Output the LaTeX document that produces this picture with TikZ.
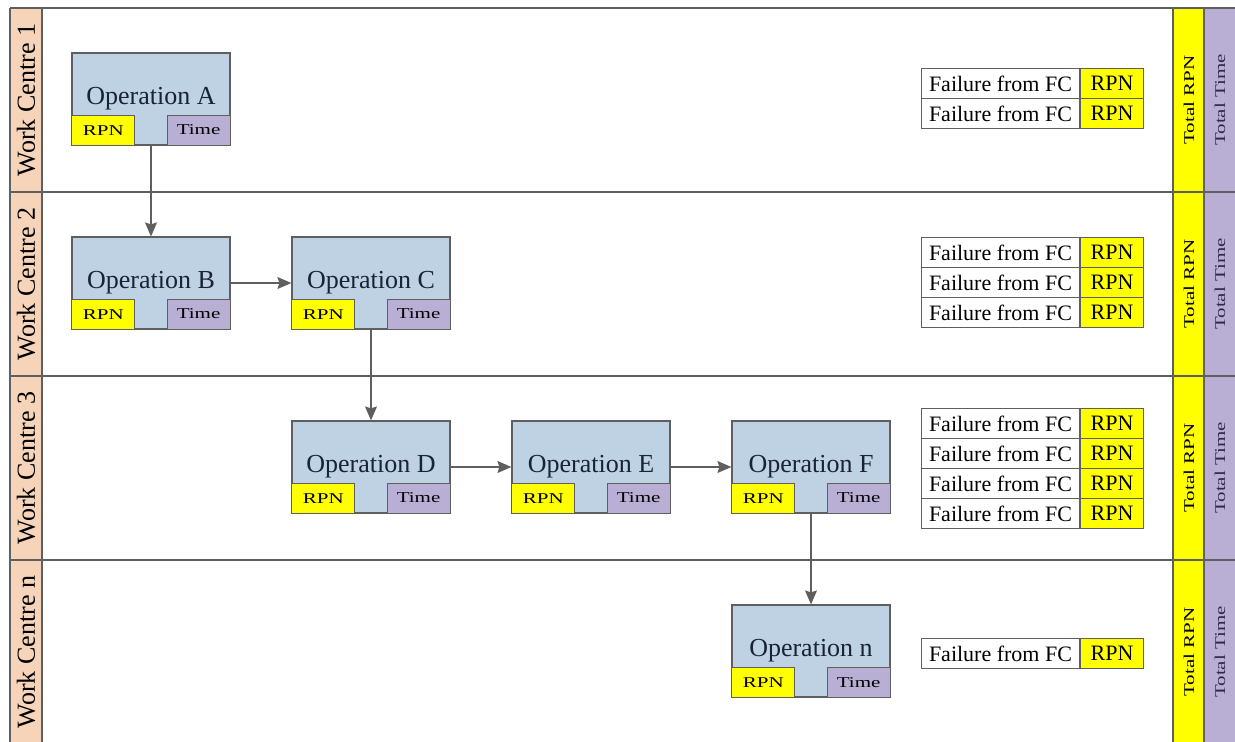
\documentclass[tikz,border=0pt]{standalone}
\usepackage{fontspec}
\setmainfont{Liberation Serif}
\newfontfamily\opfont{Liberation Serif}
\newfontfamily\widefont[FakeStretch=1.4]{Liberation Serif}
\usetikzlibrary{arrows.meta}
\definecolor{opblue}{RGB}{190,210,228}
\definecolor{rpnyellow}{RGB}{255,255,0}
\definecolor{timepurple}{RGB}{185,175,212}
\definecolor{wcpeach}{RGB}{245,212,186}
\definecolor{edgegray}{RGB}{95,95,95}
\definecolor{opink}{RGB}{25,35,55}
\definecolor{timeink}{RGB}{50,40,75}

\begin{document}
\begin{tikzpicture}[x=1pt,y=-1pt,
    op/.style={draw=edgegray, line width=1.2pt, fill=opblue, minimum width=158pt,
      minimum height=92pt, inner sep=0pt, text=opink, font=\opfont\fontsize{26}{26}\selectfont},
    rpn/.style={draw=edgegray, line width=1pt, fill=rpnyellow, minimum width=63pt,
      minimum height=30pt, inner sep=0pt, font=\widefont\fontsize{15}{15}\selectfont},
    tim/.style={rpn, fill=timepurple},
    fail/.style={draw=edgegray, line width=1pt, fill=white, minimum width=158pt,
      minimum height=30pt, inner sep=0pt, font=\opfont\fontsize{22}{22}\selectfont},
    frpn/.style={fail, fill=rpnyellow, minimum width=63pt},
    lane/.style={rotate=90, inner sep=0pt, font=\opfont\fontsize{26}{26}\selectfont},
    total/.style={rotate=90, inner sep=0pt, font=\widefont\fontsize{15}{15}\selectfont},
    flow/.style={draw=edgegray, line width=1.3pt, -{Stealth[length=14pt, width=12pt, inset=2pt]}}]
  \useasboundingbox (0,0) rectangle (1235,742);

  % Lanes
  \fill[wcpeach] (10,8) rectangle (42,744);
  \fill[rpnyellow] (1173,8) rectangle (1204,744);
  \fill[timepurple] (1204,8) rectangle (1237,744);
  \foreach \y in {8,192,376,560}
    \draw[edgegray, line width=1.5pt] (10,\y) -- (1237,\y);
  \foreach \x in {10,42,1173,1204}
    \draw[edgegray, line width=1.2pt] (\x,8) -- (\x,744);

  \foreach \c/\t [count=\i] in {100/1, 284/2, 468/3, 652/n} {
    \node[lane] (wc\i) at (26,\c) {Work Centre \t};
    \node[total] (trpn\i) at (1189,\c) {Total RPN};
    \node[total, text=timeink] (ttime\i) at (1220,\c) {Total Time};
  }

  % Operations
  \foreach \o/\x/\y/\t in {a/151/99/A, b/151/283/B, c/371/283/C, d/371/467/D,
                           e/591/467/E, f/811/467/F, n/811/651/n} {
    \node[op] (\o) at (\x,\y) {Operation \t};
    \node[rpn, anchor=south west] (\o-rpn) at (\o.south west) {RPN};
    \node[tim, anchor=south east] (\o-time) at (\o.south east) {Time};
  }

  % Failures
  \foreach \y [count=\i] in {68,98, 237,267,297, 408,438,468,498, 638} {
    \node[fail, anchor=north west] (fc\i) at (921,\y) {Failure from FC};
    \node[frpn, anchor=north west] (fr\i) at (fc\i.north east) {RPN};
  }

  % Flow between operations
  \draw[flow] (a) -- (b);
  \draw[flow] (b) -- (c);
  \draw[flow] (c) -- (d);
  \draw[flow] (d) -- (e);
  \draw[flow] (e) -- (f);
  \draw[flow] (f) -- (n);
\end{tikzpicture}
\end{document}
